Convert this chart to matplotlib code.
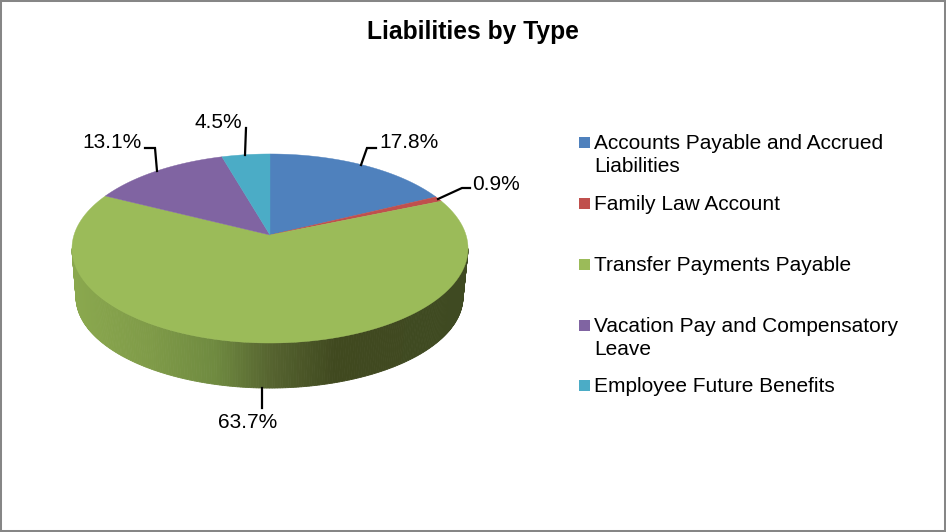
import numpy as np
import matplotlib
matplotlib.use('Agg')
import matplotlib.pyplot as plt
from matplotlib.patches import Rectangle
from matplotlib.colors import to_rgb

plt.rcParams['font.family'] = ['Liberation Sans', 'DejaVu Sans']

title = 'Liabilities by Type'
categories = ['Accounts Payable and Accrued\nLiabilities', 'Family Law Account',
              'Transfer Payments Payable', 'Vacation Pay and Compensatory\nLeave',
              'Employee Future Benefits']
values = [17.8, 0.9, 63.7, 13.1, 4.5]
colors = ['#4F81BD', '#C0504D', '#9BBB59', '#8064A2', '#4BACC6']

# layout, in pixels of the picture
label_pos = [(408.5, 142.5), (496, 184.5), (111.5, 142.5), (218.5, 122.5), (248, 422.5)]
label_order = [0, 1, 3, 4, 2]
leaders = [[(361, 165), (367, 148), (376, 148)],
           [(438, 199), (462, 188), (470, 188)],
           [(157, 171), (155, 148), (145, 148)],
           [(245, 155), (246, 128)],
           [(262, 388), (262, 408)]]
legend_y = [142, 203, 264, 325, 385]
legend_text_y = [155, 204.5, 265.5, 338, 386.5]

persp = 1 / 7
top = dict(cx=270, cy=235, a=196, b=92.6)
bottom = dict(cx=269.5, cy=284, a=191.5, b=89.2)

# wall shading, left to right
wall_x = [76, 150, 215, 270, 335, 470]
wall_c = ['#8AA84E', '#7F9B48', '#6F8A40', '#566430', '#40491F', '#3F4A22']
wall_rgb = np.array([to_rgb(c) for c in wall_c])


def project(deg, cx, cy, a, b):
    t = np.radians(deg)
    d = 1 + persp * np.cos(t)
    return cx + a * np.sin(t) / d, cy - b * np.cos(t) / d


fig = plt.figure(figsize=(9.46, 5.32), dpi=100)
ax = fig.add_axes([0, 0, 1, 1])
ax.set_xlim(0, 946)
ax.set_ylim(532, 0)
ax.set_xticks([])
ax.set_yticks([])
for s in ax.spines.values():
    s.set_color('#868686')
    s.set_linewidth(2.9)

# side wall
left = np.degrees(np.arccos(-persp))
angles = np.linspace(left, 360 - left, 241)
for a0, a1 in zip(angles[:-1], angles[1:]):
    x0, y0 = project(a0, **top)
    x1, y1 = project(a1, **top)
    x2, y2 = project(a1, **bottom)
    x3, y3 = project(a0, **bottom)
    xm = (x0 + x1 + x2 + x3) / 4
    c = [np.interp(xm, wall_x, wall_rgb[:, i]) for i in range(3)]
    ax.fill([x0, x1, x2, x3], [y0, y1, y2, y3], color=c, lw=0.6)

# top face
edges = np.cumsum([0] + values) / sum(values) * 360
for i, col in enumerate(colors):
    t = np.linspace(edges[i], edges[i + 1], 120)
    xs, ys = project(t, **top)
    ax.fill(np.r_[top['cx'], xs], np.r_[top['cy'], ys], color=col, lw=0.3, zorder=3)

# data labels
for i, (x, y) in zip(label_order, label_pos):
    ax.text(x, y, '%.1f%%' % values[i], fontsize=15, ha='center', va='center',
            color='black', zorder=5)
for pts in leaders:
    ax.plot(*zip(*pts), color='black', lw=1.6, zorder=4, solid_joinstyle='miter')

# legend
for i, cat in enumerate(categories):
    ax.add_patch(Rectangle((579, legend_y[i] - 5.5), 11, 11, color=colors[i], lw=0))
    ax.text(594, legend_text_y[i], cat, fontsize=15, ha='left', va='center',
            linespacing=1.27, color='black')

ax.text(472.5, 32.5, title, fontsize=17.7, fontweight='bold', ha='center', va='center')

fig.savefig('out.png', dpi=100)
